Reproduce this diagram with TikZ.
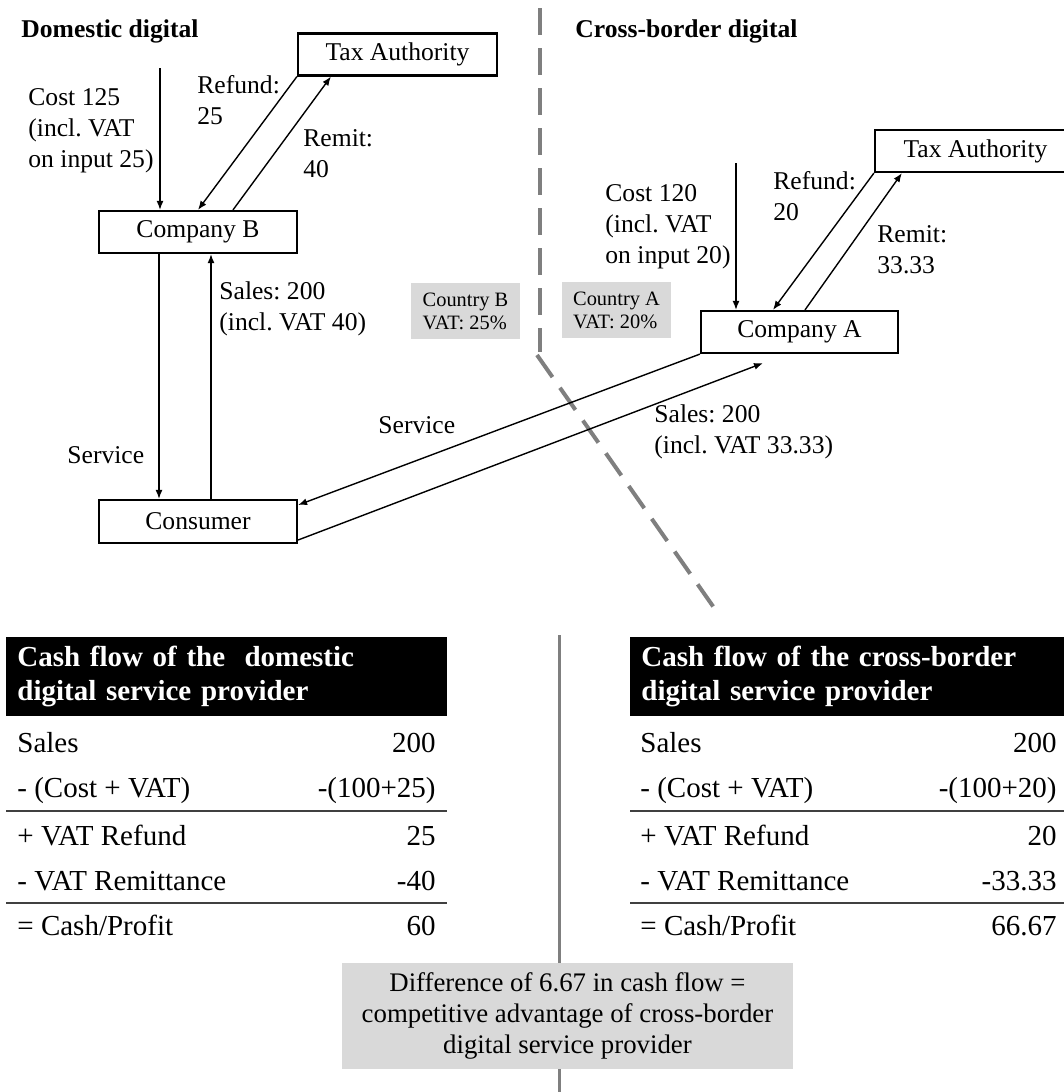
\documentclass[tikz,border=0pt]{standalone}
\usepackage{fontspec}
\setmainfont{Liberation Serif}
\usetikzlibrary{arrows.meta}
\definecolor{boxgray}{HTML}{D9D9D9}
\definecolor{linegray}{HTML}{7F7F7F}
\definecolor{rulegray}{HTML}{404040}
\tikzset{
  box/.style={draw, line width=1.1pt, minimum height=21pt, inner sep=0pt, font=\fontsize{12.8}{15.4}\selectfont},
  flow/.style={line width=.7pt, -{Latex[length=4.5pt,width=3.5pt]}},
  lbl/.style={font=\fontsize{12.8}{15.4}\selectfont, align=left, inner sep=0pt, anchor=base west},
  ctry/.style={fill=boxgray, font=\fontsize{10.2}{11.5}\selectfont, align=left, minimum width=54.5pt, minimum height=28pt, inner sep=0pt},
  head/.style={fill=black, text=white, font=\bfseries\fontsize{14.5}{17}\selectfont, align=left, anchor=north west, text width=209.5pt, inner xsep=5.5pt, minimum height=39.5pt},
  row/.style={font=\fontsize{14.5}{17}\selectfont, inner sep=0pt},
  rule/.style={draw=rulegray, line width=1pt},
  border/.style={draw=linegray, line width=2pt, dash pattern=on 13.5pt off 6.5pt},
  sep/.style={draw=linegray, line width=1.5pt}
}
\frenchspacing
\begin{document}
\begin{tikzpicture}[x=.5pt, y=-.5pt]
\useasboundingbox (0,0) rectangle (1064,1092);
% border between the countries
\draw[border] (540,8) -- (540,352); \draw[border] (537,355) -- (717,612);

% domestic digital (multi-line labels sit on their last line)
\node[lbl, font=\bfseries\fontsize{12.8}{15.4}\selectfont] (titleD) at (21,38) {Domestic digital};
\node[box, minimum width=99.5pt] (taxB) at (397.5,54.5) {Tax Authority};
\node[box, minimum width=99pt] (compB) at (198,232) {Company B};
\node[box, minimum width=99pt, minimum height=21.5pt] (cons) at (198,521.5) {Consumer};
\coordinate (costB) at (160,68);
\draw[flow] (costB) -- (costB |- compB.north);
\draw[flow] (taxB.south west) -- (compB.north);
\draw[flow] ([xshift=17.5pt]compB.north) -- ([xshift=17pt]taxB.south west);
\draw[flow] ([xshift=-19.5pt]compB.south) -- ([xshift=-19.5pt]cons.north);
\draw[flow] ([xshift=6.5pt]cons.north) -- ([xshift=6.5pt]compB.south);
\node[lbl] (costBl) at (28,167) {Cost 125\\(incl. VAT\\on input 25)};
\node[lbl] (refB) at (197,124) {Refund:\\25};
\node[lbl] (remB) at (303,177) {Remit:\\40};
\node[lbl] (salesBl) at (219,330) {Sales: 200\\(incl. VAT 40)};
\node[lbl] (servBl) at (67,463) {Service};
\node[ctry] (ctryB) at (465.5,311) {Country B\\VAT: 25\%};

% cross-border digital
\node[lbl, font=\bfseries\fontsize{12.8}{15.4}\selectfont] (titleC) at (575,37) {Cross-border digital};
\node[box, minimum width=100.5pt] (taxA) at (975.5,151) {Tax Authority};
\node[box, minimum width=98.5pt] (compA) at (799.5,332) {Company A};
\coordinate (costA) at (736,163);
\draw[flow] (costA) -- (costA |- compA.north);
\draw[flow] (taxA.south west) -- ([xshift=-13.25pt]compA.north);
\draw[flow] ([xshift=2.75pt]compA.north) -- ([xshift=14pt]taxA.south west);
\draw[flow] (compA.south west) -- ([yshift=8.25pt]cons.east);
\draw[flow] ([yshift=-9.25pt]cons.east) -- ([shift={(-18.25pt,-4.5pt)}]compA.south);
\node[lbl] (costAl) at (605,263) {Cost 120\\(incl. VAT\\on input 20)};
\node[lbl] (refA) at (773,220) {Refund:\\20};
\node[lbl] (remA) at (877,273) {Remit:\\33.33};
\node[lbl] (salesAl) at (654,453) {Sales: 200\\(incl. VAT 33.33)};
\node[lbl] (servAl) at (378,433) {Service};
\node[ctry] (ctryA) at (616.5,310) {Country A\\VAT: 20\%};

% cash flow tables
\draw[sep] (559,635) -- (559,1092);
\node[head] (headD) at (6,637) {Cash flow of the~ domestic\\digital service provider};
\node[head] (headC) at (630,637) {Cash flow of the cross-border\\digital service provider};
\foreach \y/\lab/\dv/\cv [count=\i] in {752/Sales/200/200, 797/{- (Cost + VAT)}/{-(100+25)}/{-(100+20)}, 845/{+ VAT Refund}/25/20, 890/{- VAT Remittance}/-40/-33.33, 935/{= Cash/Profit}/60/66.67}{
  \node[row, anchor=base west] (dl\i) at (17,\y) {\lab}; \node[row, anchor=base east] (dv\i) at (436,\y) {\dv};
  \node[row, anchor=base west] (cl\i) at (640,\y) {\lab}; \node[row, anchor=base east] (cv\i) at (1057,\y) {\cv};
}
\foreach \y in {811,903}{\draw[rule] (6,\y) -- (447,\y); \draw[rule] (630,\y) -- (1064,\y);}
\node[fill=boxgray, font=\fontsize{13.4}{15.5}\selectfont, align=center, minimum width=225.5pt, minimum height=53pt, inner sep=0pt] (diff) at (567.5,1016) {Difference of 6.67 in cash flow =\\competitive advantage of cross-border\\digital service provider};
\end{tikzpicture}
\end{document}
